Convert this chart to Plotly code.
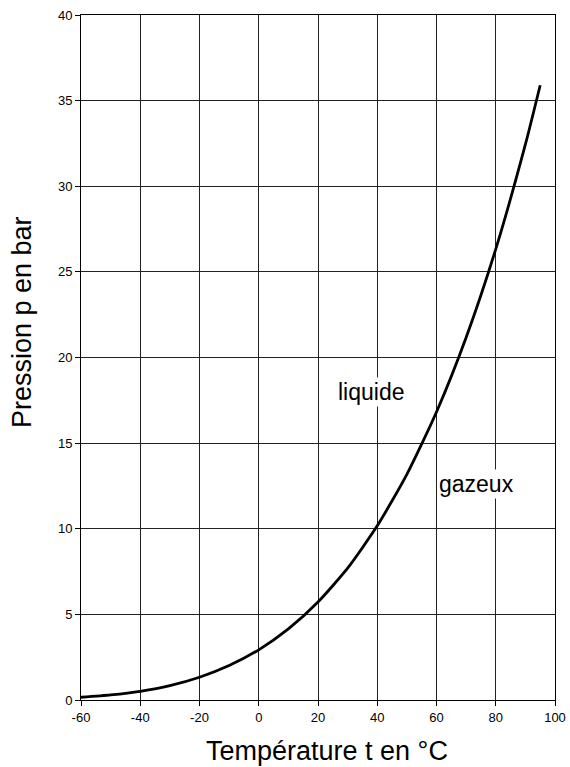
import plotly.graph_objects as go

temperature = [-60, -50, -40, -30, -20, -10, 0, 10, 20, 30, 40, 50, 60, 70, 80, 90, 95]
pressure = [0.16, 0.30, 0.51, 0.84, 1.33, 2.01, 2.93, 4.15, 5.72, 7.70, 10.17, 13.18, 16.82, 21.17, 26.33, 32.44, 35.9]

x_ticks = [-60, -40, -20, 0, 20, 40, 60, 80, 100]
x_tick_labels = ["-60", "-40", "-20", "0", "20", "40", "60", "80", "100"]
y_ticks = [0, 5, 10, 15, 20, 25, 30, 35, 40]
y_tick_labels = ["0", "5", "10", "15", "20", "25", "30", "35", "40"]

labels = ["liquide", "gazeux"]
label_x = [38.2, 73.5]
label_y = [18.0, 12.6]

x_title = "Température t en °C"
y_title = "Pression p en bar"

font_family = "Liberation Sans, Arial, sans-serif"

fig = go.Figure()
fig.add_trace(go.Scatter(
    x=temperature, y=pressure, mode="lines",
    line=dict(color="black", width=2.8, shape="spline", smoothing=0.6),
    showlegend=False, hoverinfo="skip",
))

for t, lx, ly in zip(labels, label_x, label_y):
    fig.add_annotation(x=lx, y=ly, text=t, showarrow=False,
                       font=dict(size=23, color="black", family=font_family),
                       bgcolor="white", borderpad=1)

fig.add_annotation(x=0.52, y=-0.075, xref="paper", yref="paper", text=x_title,
                   showarrow=False, xanchor="center", yanchor="middle",
                   font=dict(size=27, color="black", family=font_family))
fig.add_annotation(x=-0.124, y=0.552, xref="paper", yref="paper", text=y_title,
                   showarrow=False, xanchor="center", yanchor="middle", textangle=-90,
                   font=dict(size=27, color="black", family=font_family))

axis_common = dict(
    showline=True, linecolor="black", linewidth=1, mirror=True,
    showgrid=True, gridcolor="#222222", gridwidth=1,
    zeroline=False, ticks="outside", ticklen=5, tickcolor="black",
    tickfont=dict(size=13, color="black", family=font_family),
    automargin=False,
)

fig.update_xaxes(range=[-60, 100], tickvals=x_ticks, ticktext=x_tick_labels, **axis_common)
fig.update_yaxes(range=[0, 40], tickvals=y_ticks, ticktext=y_tick_labels, **axis_common)

fig.update_layout(
    width=570, height=767, autosize=False,
    margin=dict(l=81, r=15, t=15, b=67),
    plot_bgcolor="white", paper_bgcolor="white",
    font=dict(family=font_family, color="black"),
)

fig.write_html("out.html", config={"displayModeBar": False},
               default_width="570px", default_height="767px",
               post_script="document.body.style.margin='0';document.body.style.overflow='hidden';")
